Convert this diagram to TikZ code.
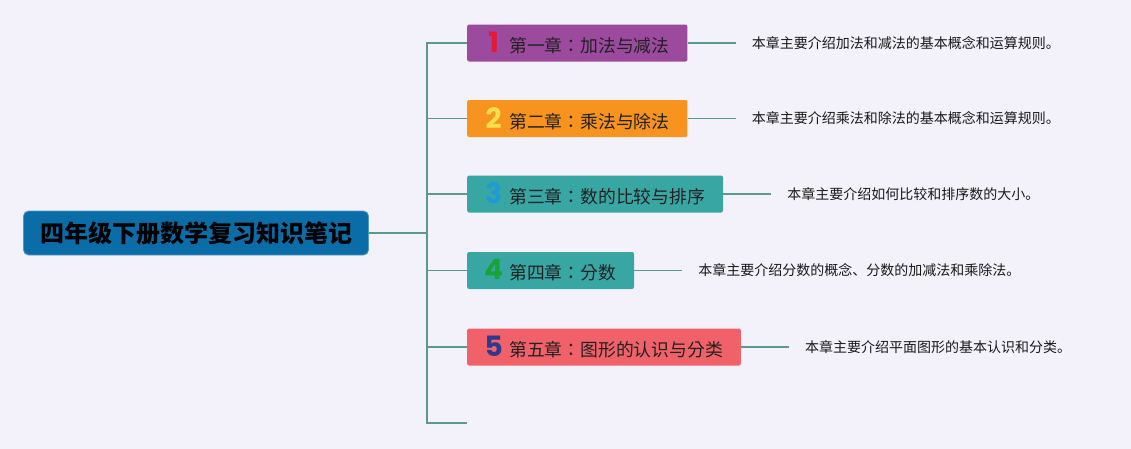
\documentclass[tikz,border=0pt]{standalone}
\usepackage{fontspec}
\setmainfont{Noto Sans CJK SC}
\newfontfamily\chapfont{Noto Sans CJK TC}
\newfontfamily\numfont{Poppins}
\usepackage{xcolor}
\usepackage{tikz}
\usetikzlibrary{positioning}

\definecolor{bgcol}{HTML}{F3F2FA}
\definecolor{linecol}{HTML}{5B998A}
\definecolor{rootcol}{HTML}{0A6DA8}
\definecolor{purplecol}{HTML}{9C4A9E}
\definecolor{orangecol}{HTML}{F7931E}
\definecolor{tealcol}{HTML}{38A6A3}
\definecolor{redcol}{HTML}{F0616A}
\definecolor{numred}{HTML}{E31937}
\definecolor{numyellow}{HTML}{F9E04B}
\definecolor{numblue}{HTML}{1E9AD6}
\definecolor{numgreen}{HTML}{17A33A}
\definecolor{numnavy}{HTML}{2B3A8F}

\newcommand{\chapnum}[2]{\makebox[17pt][c]{\numfont\bfseries\fontsize{28}{28}\selectfont\color{#1}#2}\hspace{7pt}}

\tikzset{
  rootbox/.style={fill=rootcol, draw=rootcol!70!white, line width=0.8pt, rounded corners=5pt,
    font=\bfseries\fontsize{24}{26}\selectfont, text=black, inner xsep=16.5pt, minimum height=44pt},
  chapbox/.style={rounded corners=2pt, anchor=west, inner xsep=18pt, inner ysep=0pt,
    minimum height=37pt, font=\chapfont\fontsize{17.8}{18}\selectfont, text=black!87},
  desc/.style={inner xsep=16pt, font=\fontsize{14}{14}\selectfont, text=black!90},
  conn/.style={draw=linecol, line width=1.8pt}
}

\begin{document}
\begin{tikzpicture}[x=1pt,y=-1pt]
  \useasboundingbox (0,0) rectangle (1131,448);
  \fill[bgcol] (-3,-3) rectangle (1134,451);

  \node[rootbox] (root) at (196,233) {四年级下册数学复习知识笔记};
  \coordinate (trunk) at (427,233);

  \node[chapbox, fill=purplecol] (ch1) at (467,43) {\chapnum{numred}{1}第一章：加法与减法};
  \node[chapbox, fill=orangecol] (ch2) at (467,118.5) {\chapnum{numyellow}{2}第二章：乘法与除法};
  \node[chapbox, fill=tealcol] (ch3) at (467,194) {\chapnum{numblue}{3}第三章：数的比较与排序};
  \node[chapbox, fill=tealcol] (ch4) at (467,270.5) {\chapnum{numgreen}{4}第四章：分数};
  \node[chapbox, fill=redcol] (ch5) at (467,347) {\chapnum{numnavy}{5}第五章：图形的认识与分类};
  \coordinate (ch6) at (467,423);

  \node[desc] [right=48pt of ch1] (d1) {本章主要介绍加法和减法的基本概念和运算规则。};
  \node[desc] [right=48pt of ch2] (d2) {本章主要介绍乘法和除法的基本概念和运算规则。};
  \node[desc] [right=48pt of ch3] (d3) {本章主要介绍如何比较和排序数的大小。};
  \node[desc] [right=48pt of ch4] (d4) {本章主要介绍分数的概念、分数的加减法和乘除法。};
  \node[desc] [right=48pt of ch5] (d5) {本章主要介绍平面图形的基本认识和分类。};

  \draw[conn] (root) -- (trunk);
  \draw[conn] (trunk) |- (ch1);
  \draw[conn] (trunk) |- (ch2);
  \draw[conn] (trunk) |- (ch3);
  \draw[conn] (trunk) |- (ch4);
  \draw[conn] (trunk) |- (ch5);
  \draw[conn] (trunk) |- (ch6);

  \draw[conn] (ch1) -- (d1);
  \draw[conn] (ch2) -- (d2);
  \draw[conn] (ch3) -- (d3);
  \draw[conn] (ch4) -- (d4);
  \draw[conn] (ch5) -- (d5);

\end{tikzpicture}
\end{document}
